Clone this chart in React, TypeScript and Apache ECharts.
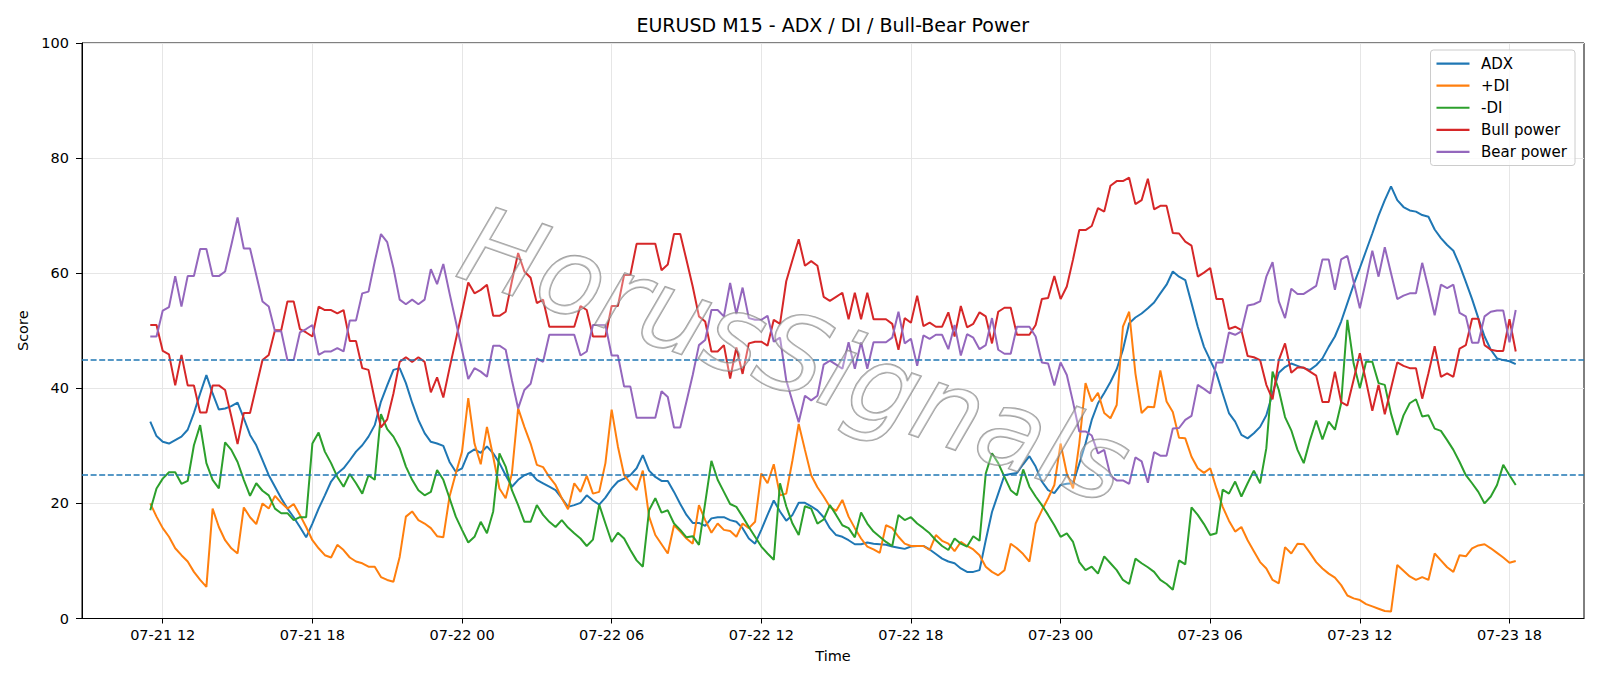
import React, { useEffect, useRef } from "react";
import * as echarts from "echarts";

// 15-minute bars, first bar at 07-21 11:30 (hours counted from 07-21 00:00)
const startHour = 11.5;
const stepHours = 0.25;
const xTicks = [12, 18, 24, 30, 36, 42, 48, 54, 60, 66];
const levels = [45, 25];
const titleText = "EURUSD M15 - ADX / DI / Bull-Bear Power";

const adx = [
  34.2, 31.7, 30.7, 30.4, 31, 31.6, 32.8, 35.7, 39.1, 42.3, 39.1, 36.3, 36.5, 36.9, 37.5, 34.8, 31.9, 30.1, 27.5, 24.9, 22.9, 20.9, 19.1, 17.6, 15.9, 14.1, 16.5, 19.1, 21.4, 23.8, 25.2, 26.1, 27.5, 29, 30.1, 31.6,
  33.6, 37.7, 40.5, 43.2, 43.5, 40.9, 37.5, 34.5, 32.2, 30.7, 30.4, 30, 27.2, 25.5, 26.1, 28.7, 29.4, 28.8, 29.9, 28.7, 27, 24.9, 22.9, 24.1, 24.9, 25.3, 24.1, 23.5, 22.9, 22.3, 20.9, 19.4, 19.7, 20.1, 21.4, 20.5, 19.8,
  21, 22.6, 23.8, 24.3, 24.9, 26.1, 28.4, 25.7, 24.6, 23.9, 23.9, 22, 19.9, 18, 16.6, 16.6, 16.1, 17.4, 17.6, 17.6, 17.1, 16.8, 15.7, 13.9, 13, 15.4, 18, 20.5, 18.6, 17, 18, 20.1, 20.1, 19.5, 18.8, 17.6, 15.7,
  14.5, 14.2, 13.6, 12.9, 12.9, 13.2, 13, 12.9, 12.8, 12.5, 12.3, 12.1, 12.5, 12.6, 12.6, 12, 11.2, 10.4, 9.9, 9.6, 8.7, 8.1, 8.1, 8.4, 13.6, 18.5, 21.7, 24.9, 25.1, 25.3, 26.8, 28.2, 26.4, 23.8, 22.3, 21.8, 23.2,
  23.4, 23.5, 26.9, 30.4, 34.5, 37.4, 39.2, 41.1, 43.3, 46.7, 51.3, 52.3, 53, 53.9, 54.9, 56.5, 58, 60.3, 59.4, 58.8, 54.8, 50.7, 47.2, 44.9, 42.6, 39.1, 35.7, 34.2, 31.9, 31.3, 32.2, 33.3, 35.3, 39.1, 42.7, 43.7, 44.3,
  43.9, 43.5, 43.2, 44, 45.2, 47.2, 49, 51.6, 54.8, 58, 60.9, 63.9, 66.9, 70, 72.7, 75.1, 72.7, 71.5, 70.9, 70.7, 70.1, 69.8, 67.6, 66.1, 64.9, 63.9, 61.4, 58.5, 55.5, 52.2, 49, 46.7, 45.2, 44.9, 44.7, 44.2,
];

const plusDI = [
  20, 17.7, 15.7, 14.2, 12.2, 11, 9.9, 8.1, 6.7, 5.5, 19.1, 15.9, 13.6, 12.2, 11.3, 19.3, 17.6, 16.4, 20, 19.1, 21.3, 20.1, 19.1, 19.9, 18, 15.9, 13.6, 12.2, 11, 10.6, 12.8, 11.9, 10.6, 9.9, 9.6, 9,
  9, 7.2, 6.7, 6.4, 10.7, 17.7, 18.6, 17.1, 16.5, 15.7, 14.3, 14.1, 21.2, 25.2, 29, 38.3, 30.4, 26.8, 33.3, 28.1, 22.6, 20.9, 25.2, 36.5, 33.3, 30.4, 26.7, 26.3, 24.6, 23.2, 20.9, 19, 23.5, 22, 24.8, 21.7, 22,
  27, 36.3, 29.9, 24.9, 23.5, 22.3, 25.7, 17.7, 14.5, 12.9, 11.3, 16.2, 15.1, 13.9, 13, 19.7, 17.1, 14.9, 16.5, 15.4, 15.2, 14.2, 16.5, 15.7, 16.8, 25.2, 23.5, 26.8, 21.4, 21.7, 27.5, 33.8, 29.3, 24.9, 22.8, 21.2, 19.4,
  18.7, 20.6, 17.7, 15.7, 13.9, 12.5, 12, 11.4, 16.2, 15.7, 14.2, 13, 12.6, 12.6, 12.6, 11.9, 14.5, 13.5, 13, 11.7, 13.3, 12.6, 12, 11, 9, 8.1, 7.5, 8.4, 13, 12.2, 11.2, 9.9, 16.5, 18.8, 20.9, 23.2, 30.4,
  25.2, 22.6, 30.4, 40.9, 37.7, 39.2, 35.7, 34.8, 37.1, 50.7, 53.3, 42.6, 35.7, 36.8, 36.7, 43.1, 37.7, 35.9, 31.4, 31.3, 28.1, 26.1, 25.3, 26.1, 22.6, 19.4, 17, 15.1, 15.9, 13.6, 11.7, 9.8, 8.7, 6.7, 6.1, 12.4, 11.3,
  13, 12.9, 11.4, 9.8, 8.7, 7.8, 7.1, 5.8, 4, 3.5, 3.2, 2.5, 2.1, 1.7, 1.3, 1.2, 9.3, 8.3, 7.3, 6.7, 7.2, 6.7, 11.3, 10.1, 8.9, 8.1, 11, 10.8, 12.2, 12.7, 12.9, 12.2, 11.4, 10.6, 9.7, 10,
];

const minusDI = [
  18.8, 22.6, 24.3, 25.4, 25.4, 23.4, 23.9, 30.1, 33.6, 27, 24.1, 22.6, 30.6, 29.3, 27.2, 24.1, 21.3, 23.5, 22.2, 21.4, 19.1, 18.3, 18.3, 17.1, 17.6, 17.6, 30.4, 32.3, 29, 27, 24.6, 22.9, 25.1, 23.5, 21.7, 24.9,
  24.1, 35.5, 32.9, 31.6, 29.6, 26.4, 24.1, 22.3, 21.4, 22, 25.8, 24.1, 20.9, 17.7, 15.4, 13.2, 14.2, 16.8, 14.8, 18.6, 28.7, 26.4, 22.3, 19.7, 16.8, 16.8, 19.7, 18, 16.8, 15.9, 17.1, 15.8, 14.8, 13.9, 12.6, 13.7, 19.8,
  16.5, 13.3, 14.9, 13.9, 11.9, 10.1, 9, 18.8, 20.9, 18.4, 18.8, 16.5, 15.4, 14.1, 14.3, 12.8, 20.1, 27.4, 24.1, 22, 19.9, 19.4, 17.7, 15.9, 14.2, 12.5, 11.3, 10.2, 23.5, 19.5, 16.5, 14.5, 19.5, 19.1, 16.5, 17.2, 19.7,
  18, 16.2, 15.7, 14.1, 18.4, 16.5, 15.1, 14.2, 13.3, 12.6, 18, 17.1, 17.6, 16.5, 15.7, 14.8, 13.6, 12.6, 11.9, 13.9, 13, 12.5, 14.3, 13.5, 25.2, 28.7, 27, 24.6, 22.3, 21.4, 25.9, 22.9, 21.2, 19.7, 18, 16.2, 14.2,
  14.8, 13.3, 9.8, 8.4, 9, 7.8, 10.8, 9.6, 8.4, 6.7, 6, 10.4, 9.6, 8.9, 8.1, 6.7, 6, 5, 10.1, 9.4, 19.3, 18, 16.4, 14.5, 14.8, 22.4, 21.7, 23.8, 21.2, 23.5, 25.7, 23.5, 29.6, 42.9, 39.7, 35, 32.7,
  29.3, 27, 31, 34.4, 31.1, 34.2, 32.8, 37.4, 51.9, 44.3, 40, 44.6, 44.6, 40.9, 40.6, 35.6, 31.9, 35.3, 37.4, 38.1, 35.1, 35.3, 33, 32.6, 31, 29.3, 27.2, 24.9, 23.5, 22, 20, 21.2, 23.2, 26.7, 24.9, 23.2,
];

const bullPower = [
  51, 51, 46.5, 45.9, 40.5, 45.8, 40.5, 40.5, 35.8, 35.8, 40.5, 40.5, 39.7, 35.1, 30.3, 35.7, 35.7, 40.3, 44.9, 45.8, 50.1, 50.1, 55.1, 55.1, 50.3, 49.7, 49, 54.2, 53.6, 53.6, 53, 53.6, 48.2, 48.2, 43.5, 43.2,
  38, 33.2, 34.6, 39.1, 44.6, 45.4, 44.6, 45.4, 44.6, 39.3, 41.9, 38.4, 43.5, 48.4, 53.3, 58.4, 56.5, 57.1, 58, 52.6, 52.6, 53.3, 58.6, 63.5, 60.3, 59.2, 54.8, 55.4, 50.7, 50.7, 50.7, 50.7, 50.7, 54.3, 53.6, 49, 49,
  49, 54.3, 54.3, 59.7, 59.7, 65.1, 65.1, 65.1, 65.1, 60.5, 61.5, 66.8, 66.8, 62.3, 57.7, 52.5, 51.6, 46.4, 46.4, 47.5, 41.7, 47.1, 42.5, 47.8, 48.1, 48.1, 47.4, 51.9, 51.2, 58.6, 62.3, 65.9, 61.3, 62.1, 61.3, 55.9, 55.2,
  55.9, 56.6, 52, 56.6, 52, 56.6, 52, 52, 52, 51.2, 46.7, 52.2, 51.4, 56.1, 50.8, 51.4, 50.7, 50.7, 53.2, 49, 54.3, 50.6, 51.2, 53.2, 52.5, 47.8, 53.3, 54, 54, 49.3, 49.3, 49.3, 51, 55.5, 55.7, 59.5, 55.5,
  57.7, 62.4, 67.5, 67.5, 68.2, 71.3, 70.7, 75.2, 76, 76, 76.6, 72, 72.7, 76.4, 71.1, 71.7, 71.7, 67, 66.9, 65.5, 64.8, 59.4, 60.1, 60.9, 55.5, 55.5, 50.3, 50.7, 50.1, 45.6, 45.4, 44.9, 40.6, 38.1, 44.9, 47.8, 42.7,
  43.6, 43.6, 42.9, 42.2, 37.6, 37.6, 42.9, 37.6, 37, 41.5, 46.1, 41.2, 36.1, 40.6, 35.5, 40, 44.5, 43.9, 43.5, 43.5, 38.2, 42.6, 47.3, 42, 42.6, 42, 46.9, 47.5, 52.1, 52.1, 47.5, 46.7, 46.5, 46.5, 52, 46.4,
];

const bearPower = [
  49, 49, 53.5, 54.1, 59.5, 54.2, 59.5, 59.5, 64.2, 64.2, 59.5, 59.5, 60.3, 64.9, 69.7, 64.3, 64.3, 59.7, 55.1, 54.2, 49.9, 49.9, 44.9, 44.9, 49.7, 50.3, 51, 45.8, 46.4, 46.4, 47, 46.4, 51.8, 51.8, 56.5, 56.8,
  62, 66.8, 65.4, 60.9, 55.4, 54.6, 55.4, 54.6, 55.4, 60.7, 58.1, 61.6, 56.5, 51.6, 46.7, 41.6, 43.5, 42.9, 42, 47.4, 47.4, 46.7, 41.4, 36.5, 39.7, 40.8, 45.2, 44.6, 49.3, 49.3, 49.3, 49.3, 49.3, 45.7, 46.4, 51, 51,
  51, 45.7, 45.7, 40.3, 40.3, 34.9, 34.9, 34.9, 34.9, 39.5, 38.5, 33.2, 33.2, 37.7, 42.3, 47.5, 48.4, 53.6, 53.6, 52.5, 58.3, 52.9, 57.5, 52.2, 51.9, 51.9, 52.6, 48.1, 48.8, 41.4, 37.7, 34.1, 38.7, 37.9, 38.7, 44.1, 44.8,
  44.1, 43.4, 48, 43.4, 48, 43.4, 48, 48, 48, 48.8, 53.3, 47.8, 48.6, 43.9, 49.2, 48.6, 49.3, 49.3, 46.8, 51, 45.7, 49.4, 48.8, 46.8, 47.5, 52.2, 46.7, 46, 46, 50.7, 50.7, 50.7, 49, 44.5, 44.3, 40.5, 44.5,
  42.3, 37.6, 32.5, 32.5, 31.8, 28.7, 29.3, 24.8, 24, 24, 23.4, 28, 27.3, 23.6, 28.9, 28.3, 28.3, 33, 33.1, 34.5, 35.2, 40.6, 39.9, 39.1, 44.5, 44.5, 49.7, 49.3, 49.9, 54.4, 54.6, 55.1, 59.4, 61.9, 55.1, 52.2, 57.3,
  56.4, 56.4, 57.1, 57.8, 62.4, 62.4, 57.1, 62.4, 63, 58.5, 53.9, 58.8, 63.9, 59.4, 64.5, 60, 55.5, 56.1, 56.5, 56.5, 61.8, 57.4, 52.7, 58, 57.4, 58, 53.1, 52.5, 47.9, 47.9, 52.5, 53.3, 53.5, 53.5, 48, 53.6,
];

const seriesNames = ["ADX", "+DI", "-DI", "Bull power", "Bear power"];
const seriesColors = ["#1f77b4", "#ff7f0e", "#2ca02c", "#d62728", "#9467bd"];

const pad2 = (n: number) => (n < 10 ? "0" + n : String(n));
const fmtTime = (h: number) => {
  const day = 21 + Math.floor(h / 24);
  const hour = Math.round(h - Math.floor(h / 24) * 24);
  return "07-" + pad2(day) + " " + pad2(hour);
};

export default function App() {
  const ref = useRef<HTMLDivElement>(null);
  useEffect(() => {
    if (!ref.current) return;
    const chart = echarts.init(ref.current, undefined, { renderer: "svg" });
    const font = "DejaVu Sans";
    const fs = 14.5;
    const lastIdx = adx.length - 1;
    const span = lastIdx * stepHours;
    const xMin = startHour - span * 0.05;
    const xMax = startHour + span * 1.05;
    const all = [adx, plusDI, minusDI, bullPower, bearPower];
    const series: any[] = all.map((arr, k) => ({
      name: seriesNames[k],
      type: "line",
      data: arr.map((v, i) => [startHour + i * stepHours, v]),
      showSymbol: false,
      symbol: "none",
      lineStyle: { width: 2, color: seriesColors[k] },
      itemStyle: { color: seriesColors[k] },
      z: 3,
    }));
    series[4].markLine = {
      silent: true,
      symbol: "none",
      label: { show: false },
      lineStyle: { color: "#1f77b4", width: 1.5, type: [6, 2.6] },
      data: levels.map((v) => ({ yAxis: v })),
    };
    chart.setOption({
      animation: false,
      textStyle: { fontFamily: font },
      title: {
        text: titleText,
        left: 832.7,
        top: 15,
        textAlign: "center",
        padding: 0,
        textStyle: { fontFamily: font, fontSize: 19, fontWeight: "normal", color: "#000" },
      },
      grid: {
        left: 82,
        right: 16,
        top: 43,
        bottom: 686 - 618.5,
        show: true,
        borderColor: "#000",
        borderWidth: 1,
        backgroundColor: "transparent",
      },
      legend: {
        orient: "vertical",
        right: 25,
        top: 50,
        padding: [6, 8, 6, 6],
        itemGap: 7,
        itemWidth: 33,
        itemHeight: 2.2,
        icon: "rect",
        backgroundColor: "rgba(255,255,255,0.8)",
        borderColor: "#cccccc",
        borderWidth: 1,
        borderRadius: 3,
        textStyle: { fontFamily: font, fontSize: 15, color: "#000", lineHeight: 15.1, padding: [0, 0, 0, 6.5] },
        data: seriesNames,
      },
      xAxis: {
        type: "value",
        min: xMin,
        max: xMax,
        name: "Time",
        nameLocation: "middle",
        nameGap: 30,
        nameTextStyle: { fontFamily: font, fontSize: fs, color: "#000" },
        axisLine: { show: true, lineStyle: { color: "#000", width: 1 } },
        axisTick: { show: true, length: 5, lineStyle: { color: "#000", width: 1 }, customValues: xTicks },
        axisLabel: {
          customValues: xTicks,
          margin: 9,
          fontFamily: font,
          fontSize: fs,
          color: "#000",
          formatter: (v: number) => fmtTime(v),
        },
        splitLine: { show: true, lineStyle: { color: "#e6e6e6", width: 1 } },
      },
      yAxis: {
        type: "value",
        min: 0,
        max: 100,
        interval: 20,
        name: "Score",
        nameLocation: "middle",
        nameGap: 51,
        nameTextStyle: { fontFamily: font, fontSize: fs, color: "#000" },
        axisLine: { show: true, lineStyle: { color: "#000", width: 1 } },
        axisTick: { show: true, length: 6, lineStyle: { color: "#000", width: 1 } },
        axisLabel: { margin: 13, fontFamily: font, fontSize: fs, color: "#000" },
        splitLine: { show: true, lineStyle: { color: "#e6e6e6", width: 1 } },
      },
      graphic: [
        {
          type: "text",
          x: 795,
          y: 355,
          rotation: -0.335,
          z: 100,
          silent: true,
          style: {
            text: "HorusSignals",
            font: "italic 107px 'DejaVu Sans'",
            fill: "rgba(255,255,255,0.3)",
            stroke: "rgba(120,120,120,0.7)",
            lineWidth: 1.7,
            align: "center",
            verticalAlign: "middle",
            shadowColor: "rgba(0,0,0,0.25)",
            shadowBlur: 3,
            shadowOffsetX: 2,
            shadowOffsetY: 3,
          },
        },
      ],
      series,
    });
    return () => chart.dispose();
  }, []);
  return (
    <div
      ref={ref}
      style={{ position: "absolute", left: 0, top: 0, width: 1600, height: 686, background: "#fff" }}
    />
  );
}
